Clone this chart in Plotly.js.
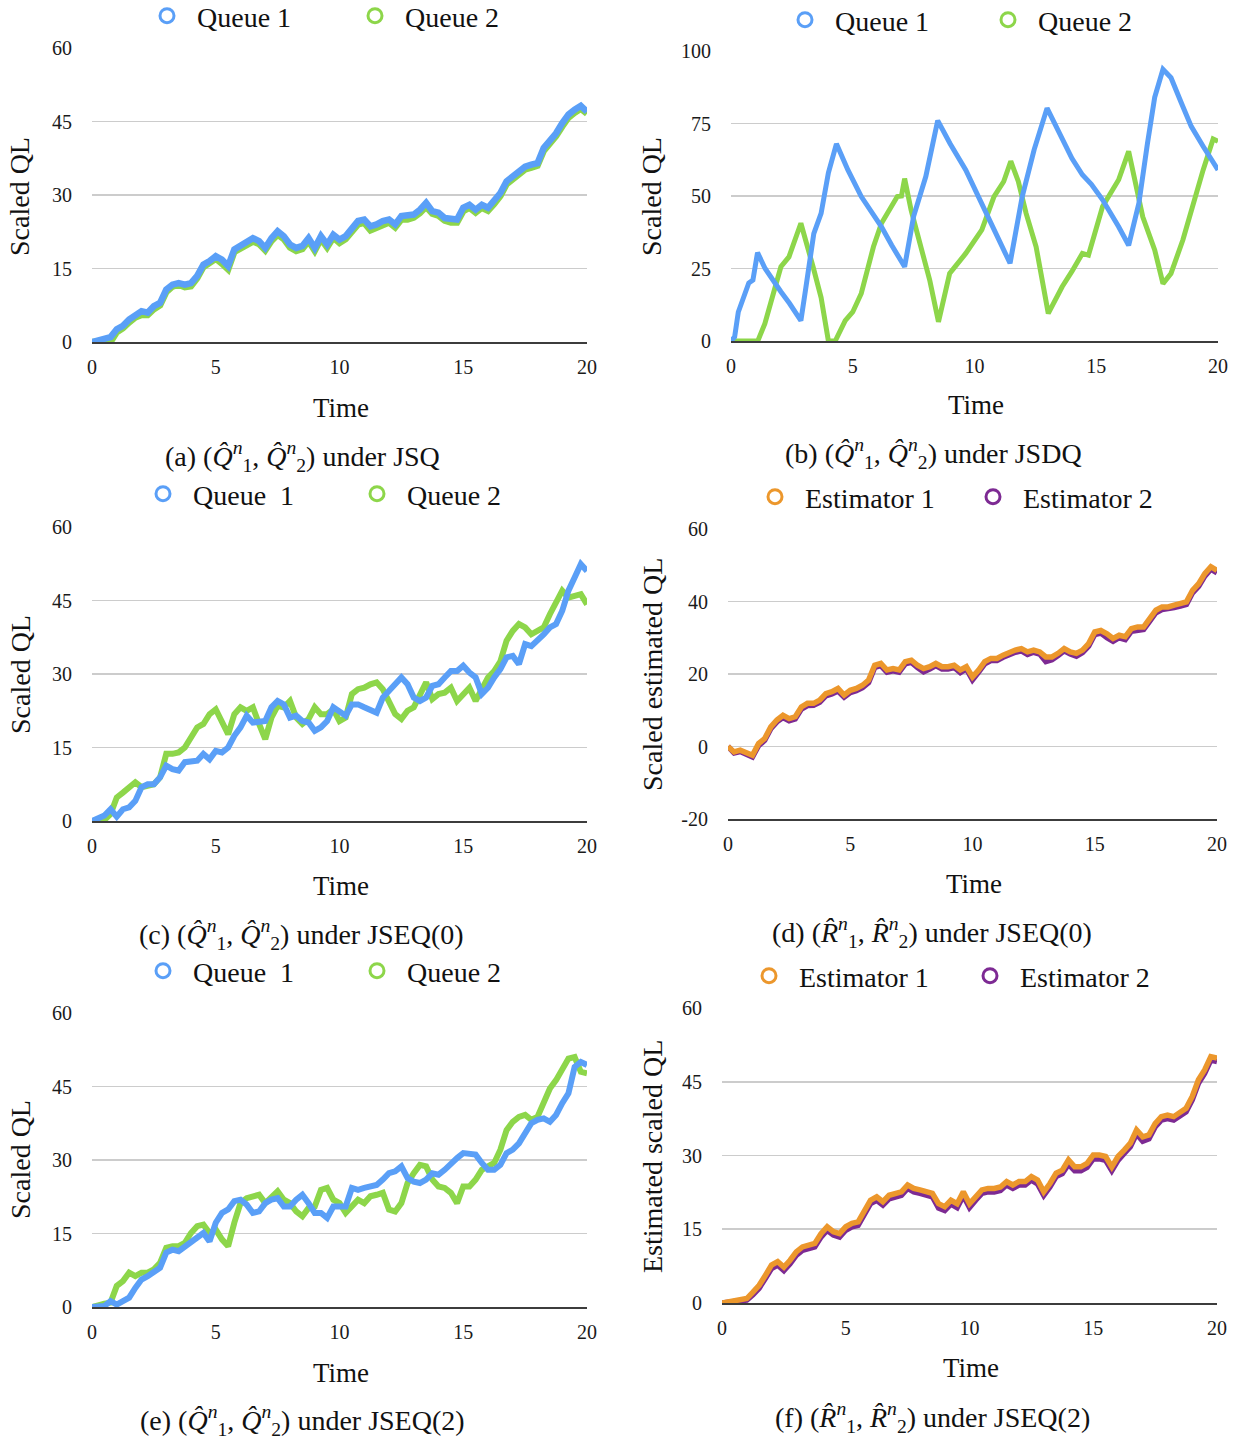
<!DOCTYPE html>
<html>
<head>
<meta charset="utf-8">
<script src="https://cdn.plot.ly/plotly-3.0.1.min.js"></script>
<style>html,body{margin:0;padding:0;background:#fff;}#chart{width:1252px;height:1443px;}</style>
</head>
<body>
<div id="chart"></div>
<script>
// ---------- data ----------
const T = [0,0.25,0.5,0.75,1,1.25,1.5,1.75,2,2.25,2.5,2.75,3,3.25,3.5,3.75,4,4.25,4.5,4.75,5,5.25,5.5,5.75,6,6.25,6.5,6.75,7,7.25,7.5,7.75,8,8.25,8.5,8.75,9,9.25,9.5,9.75,10,10.25,10.5,10.75,11,11.25,11.5,11.75,12,12.25,12.5,12.75,13,13.25,13.5,13.75,14,14.25,14.5,14.75,15,15.25,15.5,15.75,16,16.25,16.5,16.75,17,17.25,17.5,17.75,18,18.25,18.5,18.75,19,19.25,19.5,19.75,20];
const xTicks = [0,5,10,15,20];
const yTicksEst0 = [-20,0,20,40,60];
const yTickTextEst0 = ['-20','0','20','40','60'];

// (a) JSQ
const jsqQueue1 = [0,0.3,0.5,1.0,2.6,3.3,4.6,5.6,6.3,6.0, 7.3,8.0,10.7,11.7,12.0,11.7,12.0,13.5,15.8,16.5, 17.5,16.8,15.5,18.9,19.6,20.2,21.2,20.6,19.2,21.2, 22.6,21.6,19.9,19.2,19.6,21.2,19.2,21.6,19.9,21.9, 20.9,21.6,23.0,24.7,25.0,23.6,24.0,24.7,25.0,24.0, 25.7,25.7,26.0,27.0,28.4,26.7,26.4,25.3,25.0,25.0, 27.4,28.0,27.0,28.0,27.4,28.8,30.4,32.8,33.8,34.8, 35.8,36.2,36.5,39.6,40.9,42.6,44.7,46.4,47.4,48.2,47.0];
const jsqQueue2 = [0,0,0,0,2.0,2.8,4.0,5.0,5.5,5.5, 6.7,7.5,10.2,11.3,11.7,11.2,11.4,13.0,15.3,16.0, 17.0,16.0,14.8,18.4,19.2,19.7,20.5,20.0,18.7,20.6, 21.9,21.0,19.3,18.6,19.0,20.6,18.6,21.0,19.3,21.3, 20.2,21.0,22.4,24.0,24.3,22.8,23.3,24.0,24.4,23.4, 25.0,25.0,25.4,26.3,27.6,26.2,25.8,24.8,24.4,24.4, 26.7,27.4,26.4,27.4,26.8,28.2,29.8,32.2,33.2,34.2, 35.2,35.6,36.0,39.0,40.3,42.0,44.0,45.8,46.8,47.6,46.6];

// (b) JSDQ
const jsdqT1 = [0,0.15,0.3,0.5,0.73,0.9,1.09, 1.4,1.7,2.05,2.4,2.87, 3.05,3.4,3.7,4.0,4.33, 4.8,5.35,5.8,6.18,6.6,7.13, 7.5,8.0,8.49, 9.0,9.64,10.3,10.9,11.46, 11.96,12.45,12.98, 13.5,14.0,14.43,14.8,15.26,15.6,15.92,16.33, 16.75,17.1,17.4,17.74, 18.07,18.5,18.9,19.4,20];
const jsdqQueue1 = [0,1.4,10,15,20,21,30.5, 25,21,17,13,7, 17,37,44,58,68, 59,49.8,44,39.4,33,25.6, 43,56.7,76, 68,59,47.5,37,26.8, 49.8,66,80.3, 71,63,57.3,54,48.7,44,39.4,33, 47.5,68,84,93.7, 90.8,82,74,67,59];
const jsdqT2 = [0,1.1,1.39,1.72,2.05,2.38,2.87, 3.37,3.7,4.0,4.28, 4.69,5.0,5.35,5.85,6.18,6.5,6.83,7.0,7.13, 7.4,7.66,8.16,8.52, 8.98,9.64,10.3,10.8,11.2,11.49, 11.8,12.12,12.53,13.03, 13.6,14.0,14.43,14.68,15.26,15.92,16.33, 16.91,17.4,17.74, 18.07,18.56,19.06,19.39,19.8,20];
const jsdqQueue2 = [0,0,6,16.4,25.6,29,40.6, 25.6,15,0,0, 7,10,16.4,32.5,40.6,45,49.8,50,56, 45,37,21,6.6, 23.3,30.2,38.3,49.8,55,62, 55,44,32.5,9.5, 18.7,24,30.2,29.6,46.4,55.6,65.4, 42.8,31.4,19.8, 23.3,34.9,49.8,59,69.7,68.9];

// (c) JSEQ(0) queues
const jseq0Queue1 = [0,0.7,1.1,2.4,0.9,2.4,2.8,4.1,6.9,7.5, 7.5,8.9,11.3,10.6,10.3,12.0,12.3,12.3,13.7,12.6, 14.3,14.0,15.0,17.4,19.1,21.5,20.1,20.4,20.4,23.2, 24.5,23.8,21.1,21.5,20.4,20.1,18.4,19.1,20.4,23.2, 22.5,21.5,23.8,23.8,23.2,22.5,22.1,25.2,26.6,27.6, 29.3,27.9,25.2,24.5,25.2,27.6,27.9,29.3,30.6,30.6, 31.7,30.3,29.3,25.9,27.2,29.3,31.0,33.4,33.7,32.0, 36.1,35.7,36.8,38.1,39.5,40.2,42.9,47.0,49.7,52.4,51.0];
const jseq0Queue2 = [0,0,0.2,1.4,4.8,5.8,6.9,7.9,6.9,7.2, 7.5,8.9,13.7,13.7,14.0,15.0,17.1,19.1,19.8,21.8, 22.8,20.4,17.7,21.8,23.2,22.5,23.2,19.8,16.7,21.1, 23.5,23.2,24.5,21.1,19.8,20.8,23.2,21.8,21.8,22.8, 20.4,21.1,25.9,26.9,27.2,27.9,28.3,26.9,24.5,21.8, 20.8,22.5,23.2,25.9,28.3,24.9,25.9,26.2,27.2,24.5, 25.9,27.2,24.5,27.2,29.3,30.6,32.6,36.8,38.8,40.2, 39.5,38.1,38.8,39.5,42.2,44.9,47.0,45.6,46.0,46.3,44.2];

// (d) JSEQ(0) estimators
const jseq0Est1 = [0,-1.5,-1.0,-1.9,-2.4,0.8,2.2,5.4,7.3,8.6, 7.7,8.2,10.9,11.9,11.9,12.8,14.6,15.1,16.0,14.2, 15.5,16.0,16.9,18.3,22.4,22.9,21.1,21.5,21.1,23.4, 23.8,22.4,21.5,22.0,22.9,22.0,22.0,22.4,21.1,22.0, 19.2,21.1,23.4,24.3,24.3,25.2,26.1,26.6,27.0,26.1, 26.6,26.1,24.7,24.7,25.7,27.0,26.1,25.7,26.6,28.4, 31.6,32.0,31.1,29.8,30.7,30.3,32.5,33.0,33.0,35.3, 37.6,38.5,38.5,39.0,39.4,39.9,43.1,44.9,47.7,49.6,48.6];
const jseq0Est2 = [0,-1.8,-1.4,-2.3,-2.9,0.2,1.7,4.9,6.8,8.0, 7.1,7.6,10.3,11.3,11.4,12.2,14.0,14.5,15.3,13.6, 14.9,15.4,16.2,17.6,21.8,22.3,20.5,20.9,20.5,22.8, 23.2,21.8,20.6,21.4,22.3,21.4,21.4,21.8,20.4,21.4, 18.4,20.5,22.8,23.7,23.7,24.6,25.5,26.0,26.4,25.4, 26.0,25.5,23.4,23.9,25.1,26.4,25.5,24.9,25.9,27.7, 30.9,31.3,30.0,29.0,30.0,29.5,31.8,32.2,32.3,34.6, 36.9,37.8,37.9,38.3,38.7,39.2,42.4,44.2,47.0,48.9,47.9];

// (e) JSEQ(2) queues
const jseq2Queue1 = [0,0.2,0.2,1.2,0.5,1.2,1.9,3.9,5.6,6.3, 7.0,8.0,11.1,11.7,11.4,12.4,13.4,14.1,15.1,13.4, 17.2,19.2,19.9,21.6,21.9,20.9,19.2,19.5,21.2,21.9, 22.2,20.5,20.5,21.9,22.9,21.2,19.2,19.2,18.2,20.5, 20.5,20.5,24.3,23.9,24.3,24.6,24.9,26.0,27.3,27.7, 28.7,26.3,25.6,25.3,26.0,27.3,27.0,28.0,29.4,30.4, 31.4,31.1,31.1,29.4,28.0,28.0,29.0,31.4,32.1,33.4, 35.4,37.5,38.2,38.5,37.8,39.2,41.6,43.6,49.0,50.0,49.4];
const jseq2Queue2 = [0,0.5,0.7,0.9,4.3,5.3,7.0,6.3,7.0,7.0, 7.7,9.0,12.1,12.4,12.4,13.1,15.1,16.5,16.8,15.1, 15.8,13.8,12.4,17.2,21.2,22.2,22.6,22.9,21.2,22.6, 23.6,21.9,21.2,19.5,18.5,20.2,20.5,23.9,24.3,21.9, 21.2,19.2,20.5,21.9,21.2,22.6,22.9,23.3,19.9,19.5, 21.2,25.3,27.3,29.0,28.7,26.0,24.6,24.3,23.3,21.2, 24.6,24.6,26.0,28.0,28.7,29.4,32.1,36.1,37.8,38.8, 39.2,38.2,38.8,41.6,44.6,46.3,48.7,50.7,51.0,48.0,47.7];

// (f) JSEQ(2) estimators
const jseq2Est1 = [0,0.2,0.5,0.7,0.9,2.2,3.6,5.6,7.7,8.4, 7.3,8.7,10.4,11.4,11.8,12.1,14.1,15.5,14.5,14.1, 15.5,16.2,16.5,18.9,20.9,21.6,20.6,21.9,22.3,22.6, 24.0,23.3,23.0,22.6,22.3,20.2,19.6,20.9,20.2,22.6, 20.2,21.6,23.0,23.3,23.3,23.6,24.7,24.0,24.7,24.7, 25.7,25.0,22.6,24.3,26.4,27.0,29.1,27.7,27.7,28.4, 30.1,30.1,29.8,27.7,29.8,31.1,32.5,35.2,33.8,34.2, 36.5,37.9,38.2,37.9,38.6,39.6,42.0,45.4,47.4,50.1,49.8];
const jseq2Est2 = [0,0.1,0.3,0.4,0.6,1.7,3.0,5.0,7.0,7.7, 6.6,8.0,9.7,10.7,11.1,11.4,13.4,14.8,13.8,13.4, 14.8,15.5,15.8,18.2,20.2,20.9,19.9,21.2,21.6,21.9, 23.3,22.6,22.3,21.9,21.6,19.3,18.8,20.1,19.4,21.8, 19.4,20.9,22.3,22.6,22.6,22.9,24.0,23.3,24.0,24.0, 25.0,24.2,21.9,23.6,25.7,26.3,28.2,26.9,26.9,27.6, 29.3,29.3,29.0,26.9,29.0,30.4,31.8,34.4,32.9,33.4, 35.8,37.2,37.5,37.2,37.9,38.9,41.3,44.7,46.7,49.4,49.1];

// ---------- styling ----------
const BLUE = '#5a9ff7', GREEN = '#8dd64a', ORANGE = '#ec972c', PURPLE = '#7d2a93';
const FONT = '"Liberation Serif", "DejaVu Serif", serif';
const W = 1252, H = 1443;
const px = v => v / W, py = v => 1 - v / H;

const traces = [];
function line(x, y, ax, color, width) {
  traces.push({x: x, y: y, xaxis: 'x' + ax, yaxis: 'y' + ax, type: 'scatter', mode: 'lines',
    line: {color: color, width: width, shape: 'linear'}, showlegend: false, hoverinfo: 'skip'});
}
function leg(name, color, lg) {
  traces.push({x: [null], y: [null], xaxis: 'x', yaxis: 'y', type: 'scatter', mode: 'markers', name: name,
    marker: {symbol: 'circle-open', size: 14, color: color, line: {width: 3, color: color}},
    legend: lg, showlegend: true});
}

// (a)
line(T, jsqQueue2, '', GREEN, 6.5); line(T, jsqQueue1, '', BLUE, 6.5);
// (b)
line(jsdqT2, jsdqQueue2, '2', GREEN, 5); line(jsdqT1, jsdqQueue1, '2', BLUE, 5);
// (c)
line(T, jseq0Queue2, '3', GREEN, 6); line(T, jseq0Queue1, '3', BLUE, 6);
// (d)
line(T, jseq0Est2, '4', PURPLE, 5.5); line(T, jseq0Est1, '4', ORANGE, 5.5);
// (e)
line(T, jseq2Queue2, '5', GREEN, 6); line(T, jseq2Queue1, '5', BLUE, 6);
// (f)
line(T, jseq2Est2, '6', PURPLE, 5.5); line(T, jseq2Est1, '6', ORANGE, 5.5);

// legends
leg('Queue 1', BLUE, 'legend');  leg('Queue 2', GREEN, 'legend');
leg('Queue 1', BLUE, 'legend2'); leg('Queue 2', GREEN, 'legend2');
leg('Queue\u00a0 1', BLUE, 'legend3'); leg('Queue 2', GREEN, 'legend3');
leg('Estimator 1', ORANGE, 'legend4'); leg('Estimator 2', PURPLE, 'legend4');
leg('Queue\u00a0 1', BLUE, 'legend5'); leg('Queue 2', GREEN, 'legend5');
leg('Estimator 1', ORANGE, 'legend6'); leg('Estimator 2', PURPLE, 'legend6');

function xax(l, r, anchor) {
  return {domain: [px(l), px(r)], anchor: anchor, range: [0, 20], tickvals: xTicks, showgrid: false,
    zeroline: false, showline: true, linecolor: '#3c3c3c', linewidth: 2, ticks: '',
    tickfont: {size: 20, family: FONT, color: '#1a1a1a'}, ticklabelstandoff: 6, layer: 'below traces', fixedrange: true};
}
function yax(t, b, anchor, range, dtick) {
  return {domain: [py(b), py(t)], anchor: anchor, range: range, tickmode: 'linear', tick0: range[0], dtick: dtick,
    showgrid: true, gridcolor: '#cccccc', gridwidth: 1.6, zeroline: false, showline: false, ticks: '',
    tickfont: {size: 20, family: FONT, color: '#1a1a1a'}, ticklabelstandoff: 19, layer: 'below traces', fixedrange: true};
}
function legendBox(x, y, ew) {
  return {orientation: 'h', x: px(x), y: py(y), xanchor: 'left', yanchor: 'middle', bgcolor: 'rgba(0,0,0,0)',
    borderwidth: 0, font: {size: 28, family: FONT, color: '#111'}, itemwidth: 50, entrywidthmode: 'pixels', entrywidth: ew,
    itemclick: false, itemdoubleclick: false, traceorder: 'normal'};
}

const annotations = [];
function txt(x, y, s, size, angle) {
  annotations.push({xref: 'paper', yref: 'paper', x: px(x), y: py(y), text: s, showarrow: false,
    xanchor: 'center', yanchor: 'middle', textangle: angle || 0, font: {size: size, family: FONT, color: '#111'}});
}
const Qh = '<i>Q\u0302</i>', Rh = '<i>R\u0302</i>', n = '<i>n</i>';
function pair(S) { return '(' + S + '<sup>' + n + '</sup><sub>1</sub>, ' + S + '<sup>' + n + '</sup><sub>2</sub>)'; }

// axis titles
txt(20, 197, 'Scaled QL', 28, -90);       txt(341, 408, 'Time', 27);
txt(652, 197, 'Scaled QL', 28, -90);      txt(976, 405, 'Time', 27);
txt(20, 675, 'Scaled QL', 28, -90);       txt(341, 886, 'Time', 27);
txt(652, 675, 'Scaled estimated QL', 28, -90); txt(974, 884, 'Time', 27);
txt(20, 1160, 'Scaled QL', 28, -90);      txt(341, 1373, 'Time', 27);
txt(652, 1157, 'Estimated scaled QL', 28, -90); txt(971, 1368, 'Time', 27);
// captions
txt(302, 456, '(a) ' + pair(Qh) + ' under JSQ', 28);
txt(933, 453, '(b) ' + pair(Qh) + ' under JSDQ', 28);
txt(301, 934, '(c) ' + pair(Qh) + ' under JSEQ(0)', 28);
txt(932, 932, '(d) ' + pair(Rh) + ' under JSEQ(0)', 28);
txt(302, 1420, '(e) ' + pair(Qh) + ' under JSEQ(2)', 28);
txt(932, 1417, '(f) ' + pair(Rh) + ' under JSEQ(2)', 28);

const y4 = yax(529, 819, 'x4', [-20, 60], 20);
y4.tickmode = 'array'; y4.tickvals = yTicksEst0; y4.ticktext = yTickTextEst0;

const layout = {
  width: W, height: H, margin: {l: 0, r: 0, t: 0, b: 0, autoexpand: false}, paper_bgcolor: '#ffffff', plot_bgcolor: '#ffffff',
  font: {family: FONT, color: '#111'}, showlegend: true, hovermode: false,
  xaxis: xax(92, 587, 'y'),   yaxis: yax(48, 342, 'x', [0, 60], 15),
  xaxis2: xax(731, 1218, 'y2'), yaxis2: yax(51, 341, 'x2', [0, 100], 25),
  xaxis3: xax(92, 587, 'y3'), yaxis3: yax(527, 821, 'x3', [0, 60], 15),
  xaxis4: xax(728, 1217, 'y4'), yaxis4: y4,
  xaxis5: xax(92, 587, 'y5'), yaxis5: yax(1013, 1307, 'x5', [0, 60], 15),
  xaxis6: xax(722, 1217, 'y6'), yaxis6: yax(1008, 1303, 'x6', [0, 60], 15),
  legend: legendBox(137, 16, 143),
  legend2: legendBox(775, 20, 138),
  legend3: legendBox(133, 494, 149),
  legend4: legendBox(745, 497, 153),
  legend5: legendBox(133, 971, 149),
  legend6: legendBox(739, 976, 156),
  annotations: annotations
};

Plotly.newPlot('chart', traces, layout, {staticPlot: true, displayModeBar: false});
</script>
</body>
</html>
